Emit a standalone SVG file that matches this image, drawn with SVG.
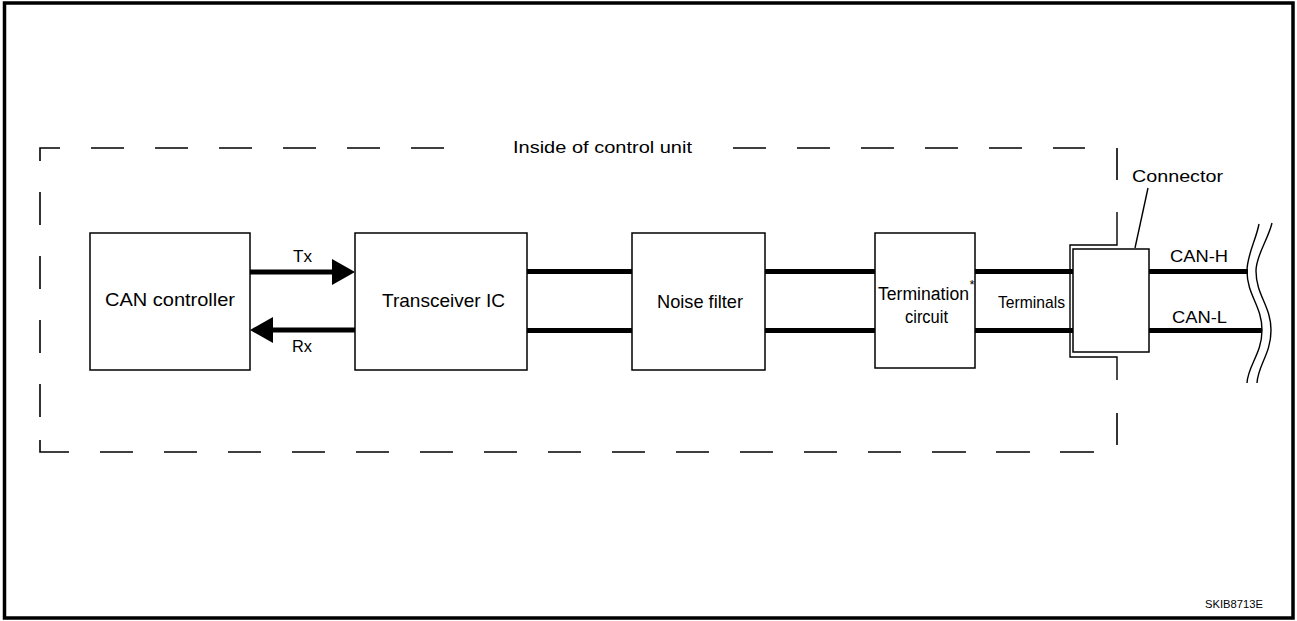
<svg xmlns="http://www.w3.org/2000/svg" width="1297" height="621" viewBox="0 0 1297 621">
  <style>
    .frame { fill: none; stroke: #000; stroke-width: 3.5; }
    .box { fill: #fff; stroke: #000; stroke-width: 1.5; }
    .dash { fill: none; stroke: #000; stroke-width: 1.6; }
    .thin { fill: none; stroke: #000; stroke-width: 1.4; }
    .bus { fill: none; stroke: #000; stroke-width: 5; }
    .lbl { font-family: "Liberation Sans", Arial, sans-serif; fill: #000; }
  </style>
  <defs>
    <!-- arrowhead starts at the end of the line and points onward -->
    <marker id="arrow" markerUnits="userSpaceOnUse" markerWidth="23" markerHeight="26" refX="0" refY="13" orient="auto" overflow="visible">
      <path d="M0,0 L23,13 L0,26 Z" fill="#000"/>
    </marker>
  </defs>

  <rect width="1297" height="621" fill="#fff"/>
  <rect class="frame" x="4.5" y="3" width="1288.5" height="615"/>

  <!-- boundary of the control unit -->
  <g id="unit-boundary">
    <path class="dash" d="M40,161 V148 H60
      M91,148 H124 M155,148 H188 M219,148 H252 M283,148 H316 M347,148 H380 M411,148 H444
      M733,148 H766 M797,148 H830 M861,148 H894 M925,148 H958 M989,148 H1022 M1053,148 H1085
      M40,192 V225 M40,256 V289 M40,320 V353 M40,384 V417
      M40,440 V452 H69
      M100,452 H133 M164,452 H197 M228,452 H261 M292,452 H325 M356,452 H389 M420,452 H453
      M484,452 H517 M548,452 H581 M612,452 H645 M676,452 H709 M740,452 H773 M804,452 H837
      M868,452 H901 M932,452 H966 M996,452 H1030 M1060,452 H1094
      M1117,148 V180 M1117,413 V445"/>
    <text class="lbl" x="513" y="153" font-size="16.5" textLength="179" lengthAdjust="spacingAndGlyphs">Inside of control unit</text>
  </g>

  <!-- signal lines -->
  <g id="connectors">
    <line class="bus" x1="250" y1="272" x2="332" y2="272" marker-end="url(#arrow)"/>
    <line class="bus" x1="355" y1="330" x2="273" y2="330" marker-end="url(#arrow)"/>
    <line class="bus" x1="527" y1="271.5" x2="632" y2="271.5"/>
    <line class="bus" x1="527" y1="330.5" x2="632" y2="330.5"/>
    <line class="bus" x1="765" y1="271.5" x2="875" y2="271.5"/>
    <line class="bus" x1="765" y1="330.5" x2="875" y2="330.5"/>
    <line class="bus" x1="975" y1="271.5" x2="1075" y2="271.5"/>
    <line class="bus" x1="975" y1="330.5" x2="1075" y2="330.5"/>
    <line class="bus" x1="1149" y1="271.5" x2="1248" y2="271.5"/>
    <line class="bus" x1="1149" y1="330.5" x2="1262" y2="330.5"/>
    <text class="lbl" x="293" y="262" font-size="16.5" textLength="19" lengthAdjust="spacingAndGlyphs">Tx</text>
    <text class="lbl" x="292" y="352" font-size="16.5" textLength="20" lengthAdjust="spacingAndGlyphs">Rx</text>
    <text class="lbl" x="998" y="308" font-size="17" textLength="67" lengthAdjust="spacingAndGlyphs">Terminals</text>
    <text class="lbl" x="1170" y="262" font-size="17" textLength="58" lengthAdjust="spacingAndGlyphs">CAN-H</text>
    <text class="lbl" x="1172" y="323" font-size="17" textLength="55" lengthAdjust="spacingAndGlyphs">CAN-L</text>
  </g>

  <g id="can-controller">
    <rect class="box" x="90" y="233" width="160" height="137"/>
    <text class="lbl" x="105" y="306" font-size="18.5" textLength="130" lengthAdjust="spacingAndGlyphs">CAN controller</text>
  </g>

  <g id="transceiver-ic">
    <rect class="box" x="355" y="233" width="172" height="137"/>
    <text class="lbl" x="382" y="307" font-size="18.5" textLength="123" lengthAdjust="spacingAndGlyphs">Transceiver IC</text>
  </g>

  <g id="noise-filter">
    <rect class="box" x="632" y="233" width="133" height="137"/>
    <text class="lbl" x="657" y="308" font-size="18.5" textLength="86" lengthAdjust="spacingAndGlyphs">Noise filter</text>
  </g>

  <g id="termination-circuit">
    <rect class="box" x="875" y="233" width="100" height="135"/>
    <text class="lbl" x="878" y="300" font-size="18" textLength="91" lengthAdjust="spacingAndGlyphs">Termination</text>
    <text class="lbl" x="905" y="323" font-size="18" textLength="43" lengthAdjust="spacingAndGlyphs">circuit</text>
    <text class="lbl" x="969.5" y="289" font-size="13">*</text>
  </g>

  <g id="connector">
    <path class="thin" d="M1117,212 V245 H1070 V357 H1117 V380"/>
    <rect class="box" x="1073" y="249" width="76" height="103"/>
    <line class="thin" x1="1135" y1="248" x2="1148" y2="188"/>
    <text class="lbl" x="1132" y="182" font-size="17" textLength="91" lengthAdjust="spacingAndGlyphs">Connector</text>
  </g>

  <!-- harness break mark -->
  <g id="break-mark">
    <path class="thin" d="M1259,224 C1256,240 1247,255 1247,271 C1247,295 1262,306 1262,330 C1262,354 1248,365 1247,383"/>
    <path class="thin" d="M1272,223 C1268,240 1256,255 1256,271 C1256,295 1271,306 1271,330 C1271,354 1258,365 1257,383"/>
  </g>

  <text class="lbl" x="1205" y="608" font-size="11" textLength="58" lengthAdjust="spacingAndGlyphs">SKIB8713E</text>
</svg>
